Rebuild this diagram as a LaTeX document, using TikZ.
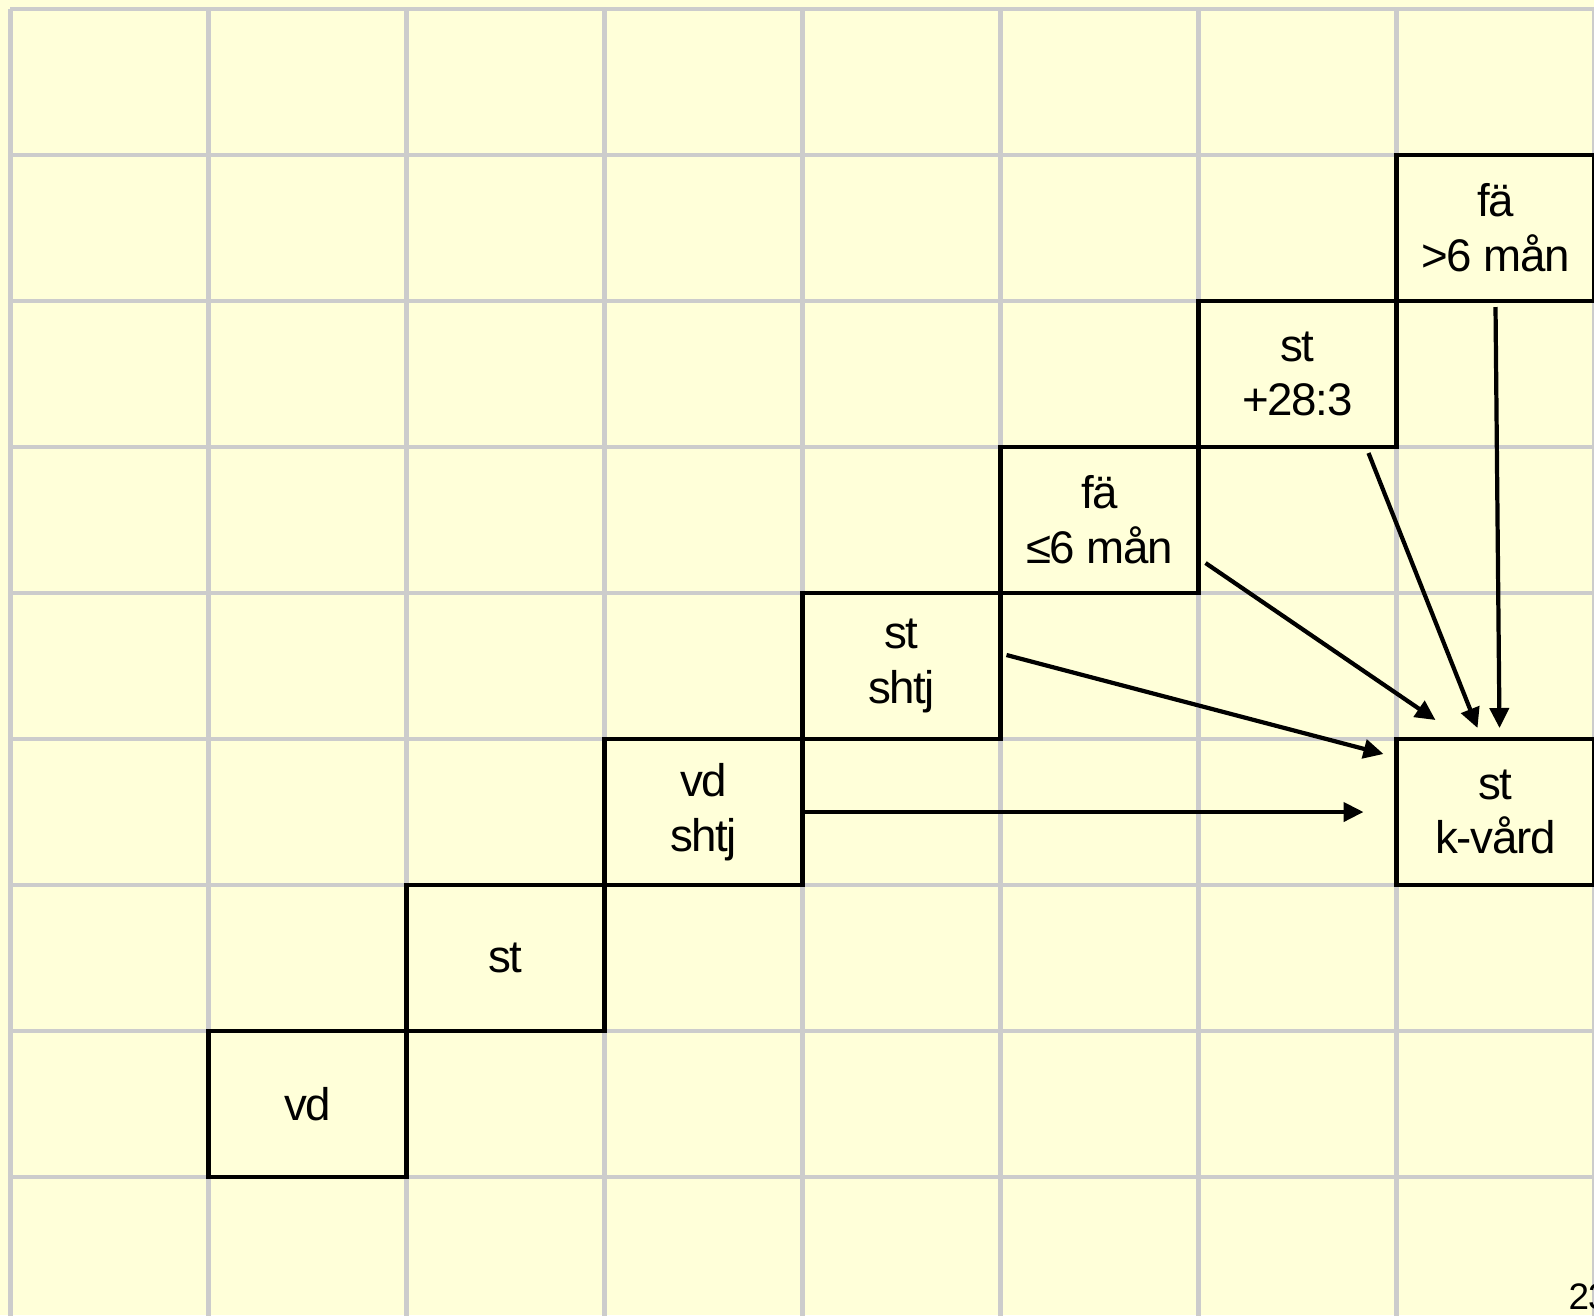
\documentclass[tikz,border=0pt]{standalone}
\usepackage{fontspec}
\setmainfont{Liberation Sans}[LetterSpace=-3]
\usetikzlibrary{arrows.meta, positioning}

\definecolor{fondo}{RGB}{255,255,217}
\definecolor{gris}{RGB}{204,204,204}

\begin{document}
\begin{tikzpicture}[
        % Estilo de la rejilla
        rejilla/.style={
                draw=gris,
                line width=1.2pt
            },
        % Estilo de las cajas
        caja/.style={
                rectangle,
                draw=black,
                line width=1.2pt,
                minimum width=1.98cm,
                minimum height=1.46cm,
                inner sep=0pt,
                outer sep=0pt,
                align=center,
                font=\fontsize{13pt}{15.6pt}\selectfont,
                text=black
            },
        % Flechas
        flecha/.style={
                -{Triangle[length=0.2cm, width=0.19cm]},
                line width=1.2pt,
                color=black
            }
    ]

    % Fondo y recorte
    \useasboundingbox (0,0) rectangle (15.94,-13.15);
    \clip (0,0) rectangle (15.94,-13.15);
    \fill[fondo] (0,0) rectangle (15.94,-13.15);

    % Rejilla
    \foreach \i in {0,...,8}
        \draw[rejilla] (0.105+1.98*\i,-0.09) -- (0.105+1.98*\i,-13.5);
    \foreach \j in {0,...,8}
        \draw[rejilla] (0.105,-0.09-1.46*\j) -- (16.2,-0.09-1.46*\j);

    % Escalera de cajas
    \node[caja] (paso1) at (3.075,-11.04) {vd};
    \node[caja, above right=0pt of paso1] (paso2) {st};
    \node[caja, above right=0pt of paso2] (paso3) {vd\\shtj};
    \node[caja, above right=0pt of paso3] (paso4) {st\\shtj};
    \node[caja, above right=0pt of paso4] (paso5) {fä\\≤6 mån};
    \node[caja, above right=0pt of paso5] (paso6) {st\\+28:3};
    \node[caja, above right=0pt of paso6] (paso7) {fä\\>6 mån};

    % Destino
    \node[caja, right=5.94cm of paso3] (kvard) {st\\k-vård};

    % Flechas hacia el destino
    \draw[flecha] (paso3.east) -- ([xshift=-0.33cm]kvard.west);
    \draw[flecha] ([shift={(0.06cm,0.11cm)}]paso4.east) -- ([shift={(-0.13cm,-0.15cm)}]kvard.north west);
    \draw[flecha] ([shift={(0.07cm,0.30cm)}]paso5.south east) -- ([shift={(0.39cm,0.19cm)}]kvard.north west);
    \draw[flecha] ([shift={(-0.28cm,-0.06cm)}]paso6.south east) -- ([shift={(-0.18cm,0.11cm)}]kvard.north);
    \draw[flecha] ([yshift=-0.06cm]paso7.south) -- ([shift={(0.04cm,0.11cm)}]kvard.north);

    % Número de página
    \node[anchor=base west, inner sep=0pt, font=\fontsize{10.5pt}{12pt}\selectfont] (pagina) at (15.68,-13.09) {23};

\end{tikzpicture}
\end{document}
